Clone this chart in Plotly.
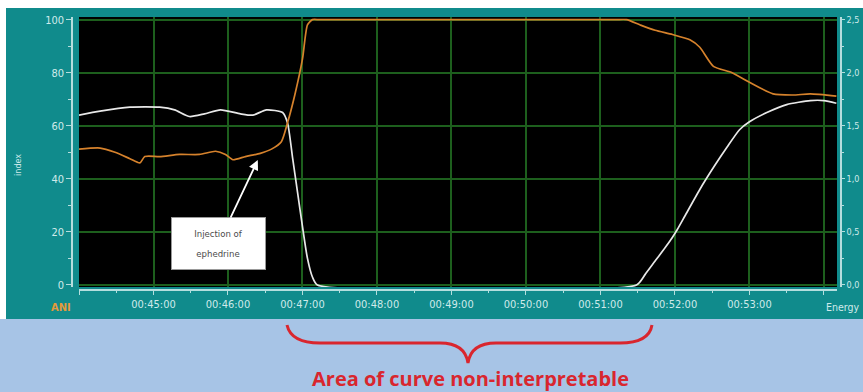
import plotly.graph_objects as go

# ---------------- data ----------------
ani_time = ["44:00", "44:17", "44:41", "45:05", "45:17", "45:29", "45:41", "45:54",
            "46:10", "46:20", "46:31", "46:44", "46:48", "46:52", "46:56", "47:00",
            "47:04", "47:08", "47:12", "51:29", "51:36", "51:44", "51:52", "51:58",
            "52:02", "52:08", "52:20", "52:32", "52:42", "52:52", "53:00", "53:14",
            "53:30", "53:49", "54:00", "54:10"]
ani_index = [64, 65.5, 67, 67, 66, 63.5, 64.5, 66,
             64.5, 64, 66, 65, 61, 48, 35, 22,
             10, 3, 0, 0, 4, 9, 14, 18,
             21, 26, 36, 45, 52, 58.5, 61.5, 65,
             68, 69.5, 69.5, 68.5]

energy_time = ["44:00", "44:17", "44:29", "44:41", "44:49", "44:53", "45:05", "45:21",
               "45:37", "45:50", "45:58", "46:04", "46:14", "46:26", "46:35", "46:43",
               "46:48", "46:54", "47:00", "47:04", "47:08", "47:14", "51:12", "51:21",
               "51:32", "51:44", "51:58", "52:12", "52:20", "52:31", "52:46", "53:00",
               "53:19", "53:35", "53:49", "54:10"]
energy = [1.28, 1.29, 1.25, 1.19, 1.15, 1.21, 1.21, 1.23,
          1.23, 1.26, 1.23, 1.18, 1.21, 1.24, 1.28, 1.35,
          1.53, 1.80, 2.13, 2.45, 2.50, 2.50, 2.50, 2.50,
          2.45, 2.40, 2.36, 2.31, 2.24, 2.06, 2.00, 1.91,
          1.80, 1.79, 1.80, 1.78]

tick_minutes = [44, 45, 46, 47, 48, 49, 50, 51, 52, 53, 54]
tick_labels = ["", "00:45:00", "00:46:00", "00:47:00", "00:48:00", "00:49:00",
               "00:50:00", "00:51:00", "00:52:00", "00:53:00", ""]

y_ticks = [0, 20, 40, 60, 80, 100]
y2_ticks = [0, 0.5, 1.0, 1.5, 2.0, 2.5]

DAY = "2000-01-01 00:"


def t(s):
    return DAY + s


# ---------------- geometry helpers (pixels -> paper) ----------------
W, H = 863, 392
ML, MR, MT, MB = 72, 22, 17, 102
PW = W - ML - MR
PH = H - MT - MB


def px(x):
    return (x - ML) / PW


def py(y):
    return (H - MB - y) / PH


TEAL = "#108b8c"
BLUE = "#a7c4e6"
LIGHT = "#cfeaea"
AXIS = "#b5dede"
GRID = "#1d5f1d"
ORANGE = "#d6822c"
RED = "#d9262e"
FONT = "DejaVu Sans Condensed, DejaVu Sans, sans-serif"

fig = go.Figure()

fig.add_trace(go.Scatter(
    x=[t(s) for s in energy_time], y=energy, yaxis="y2", mode="lines",
    line=dict(color=ORANGE, width=1.7, shape="spline", smoothing=0.6),
    showlegend=False, hoverinfo="skip"))

fig.add_trace(go.Scatter(
    x=[t(s) for s in ani_time], y=ani_index, mode="lines",
    line=dict(color="#e8e8e8", width=1.7, shape="spline", smoothing=0.6),
    showlegend=False, hoverinfo="skip"))

xdom = [px(79), px(837)]
ydom = [py(287.1), 1]

shapes = [
    dict(type="rect", xref="paper", yref="paper", x0=px(-10), x1=px(880),
         y0=py(319), y1=py(-10), fillcolor="white", line_width=0, layer="below"),
    dict(type="rect", xref="paper", yref="paper", x0=px(6), x1=px(880),
         y0=py(319), y1=py(8), fillcolor=TEAL, line_width=0, layer="below"),
    dict(type="rect", xref="paper", yref="paper", x0=xdom[0], x1=xdom[1],
         y0=ydom[0], y1=ydom[1], fillcolor="black", line_width=0, layer="below"),
]

# red curly brace under the non-interpretable interval
pts = [(287, 325), (291, 343), (320, 343), (440, 343), (465, 343), (468, 363),
       (471, 343), (496, 343), (620, 343), (649, 343), (652, 325)]
P = [(px(a), py(b)) for a, b in pts]
path = ("M {0[0]},{0[1]} Q {1[0]},{1[1]} {2[0]},{2[1]} L {3[0]},{3[1]} "
        "Q {4[0]},{4[1]} {5[0]},{5[1]} Q {6[0]},{6[1]} {7[0]},{7[1]} "
        "L {8[0]},{8[1]} Q {9[0]},{9[1]} {10[0]},{10[1]}").format(*P)
shapes.append(dict(type="path", xref="paper", yref="paper", path=path,
                   line=dict(color=RED, width=3)))

annotations = [
    dict(text="index", xref="paper", yref="paper", x=px(18), y=py(165),
         xanchor="center", yanchor="middle",
         textangle=-90, showarrow=False, font=dict(size=9, color=LIGHT, family=FONT)),
    dict(text="<b>ANI</b>", xref="paper", yref="paper", x=px(61), y=py(307),
         xanchor="center", yanchor="middle",
         showarrow=False, font=dict(size=11, color="#e39a3a", family=FONT)),
    dict(text="Energy", xref="paper", yref="paper", x=px(825), y=py(307),
         xanchor="left", yanchor="middle", borderpad=0,
         showarrow=False, font=dict(size=10.5, color=LIGHT, family=FONT)),
    dict(text="<span style='font-size:9.5px'>Injection of</span><br>"
              "<span style='font-size:9.5px'>ephedrine</span>",
         x=t("46:24"), y=47.1, xref="x", yref="y",
         ax=-39.5, ay=83.5, showarrow=True, arrowhead=2, arrowsize=1.1,
         arrowwidth=1.8, arrowcolor="white",
         bgcolor="white", bordercolor="#999999", borderwidth=1, borderpad=2,
         width=89, height=47, font=dict(size=15, color="#4a4a4a", family=FONT)),
    dict(text="<b>Area of curve non-interpretable</b>", xref="paper", yref="paper",
         x=px(471), y=py(378.5), xanchor="center", yanchor="middle", showarrow=False,
         borderpad=0, font=dict(size=20, color=RED, family="Open Sans, sans-serif")),
]

fig.update_layout(
    width=W, height=H,
    margin=dict(l=ML, r=MR, t=MT, b=MB, autoexpand=False),
    paper_bgcolor=BLUE, plot_bgcolor="rgba(0,0,0,0)",
    separators=", ",
    shapes=shapes, annotations=annotations,
    xaxis=dict(type="date", domain=xdom, anchor="free", position=0, automargin=False,
               range=[t("44:00"), t("54:10.5")],
               tickvals=[t("%02d:00" % m) for m in tick_minutes], ticktext=tick_labels,
               showgrid=True, gridcolor=GRID, gridwidth=1.6,
               showline=True, linecolor=AXIS, linewidth=1.5,
               ticks="outside", ticklen=4, tickcolor=AXIS,
               minor=dict(tickvals=[t("%02d:30" % m) for m in tick_minutes[:-1]],
                          ticks="outside", ticklen=2, tickcolor=AXIS, showgrid=False),
               tickfont=dict(size=11, color=LIGHT, family=FONT), zeroline=False),
    yaxis=dict(domain=ydom, range=[-0.8, 101], anchor="free", position=0, automargin=False,
               tickvals=y_ticks, showgrid=True, gridcolor=GRID, gridwidth=1.6,
               showline=True, linecolor=AXIS, linewidth=1.5,
               ticks="outside", ticklen=5, tickcolor=AXIS,
               minor=dict(dtick=10, ticks="outside", ticklen=3, tickcolor=AXIS,
                          showgrid=False),
               tickfont=dict(size=11, color=LIGHT, family=FONT), zeroline=False),
    yaxis2=dict(domain=ydom, range=[-0.02, 2.525], overlaying="y", side="right",
                anchor="free", position=1, automargin=False,
                tickvals=y2_ticks, tickformat=".1f",
                showgrid=False, showline=True, linecolor=AXIS, linewidth=1.5,
                ticks="outside", ticklen=3, tickcolor=AXIS,
                minor=dict(dtick=0.25, ticks="outside", ticklen=2, tickcolor=AXIS),
                tickfont=dict(size=9, color=LIGHT, family=FONT), zeroline=False),
)

fig.write_html("out.html")
